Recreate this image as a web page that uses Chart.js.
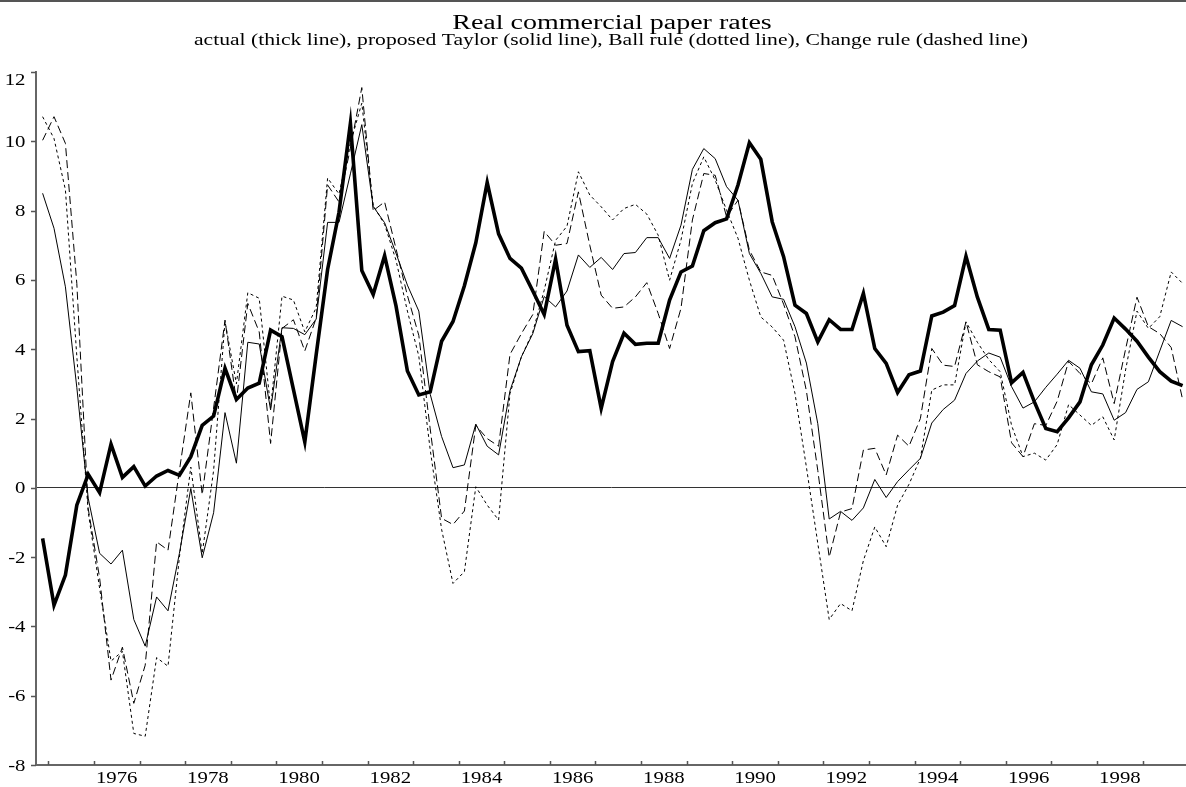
<!DOCTYPE html>
<html>
<head>
<meta charset="utf-8">
<script src="https://cdn.jsdelivr.net/npm/chart.js"></script>
<style>
  html, body { margin: 0; padding: 0; background: #fff; }
  canvas { display: block; }
</style>
</head>
<body>
<canvas id="c" width="1186" height="787"></canvas>
<script>
const chartTitle = "Real commercial paper rates";
const chartSubtitle = "actual (thick line), proposed Taylor (solid line), Ball rule (dotted line), Change rule (dashed line)";

const quarters = [
  "1974Q4",
  "1975Q1","1975Q2","1975Q3","1975Q4","1976Q1","1976Q2","1976Q3","1976Q4",
  "1977Q1","1977Q2","1977Q3","1977Q4","1978Q1","1978Q2","1978Q3","1978Q4",
  "1979Q1","1979Q2","1979Q3","1979Q4","1980Q1","1980Q2","1980Q3","1980Q4",
  "1981Q1","1981Q2","1981Q3","1981Q4","1982Q1","1982Q2","1982Q3","1982Q4",
  "1983Q1","1983Q2","1983Q3","1983Q4","1984Q1","1984Q2","1984Q3","1984Q4",
  "1985Q1","1985Q2","1985Q3","1985Q4","1986Q1","1986Q2","1986Q3","1986Q4",
  "1987Q1","1987Q2","1987Q3","1987Q4","1988Q1","1988Q2","1988Q3","1988Q4",
  "1989Q1","1989Q2","1989Q3","1989Q4","1990Q1","1990Q2","1990Q3","1990Q4",
  "1991Q1","1991Q2","1991Q3","1991Q4","1992Q1","1992Q2","1992Q3","1992Q4",
  "1993Q1","1993Q2","1993Q3","1993Q4","1994Q1","1994Q2","1994Q3","1994Q4",
  "1995Q1","1995Q2","1995Q3","1995Q4","1996Q1","1996Q2","1996Q3","1996Q4",
  "1997Q1","1997Q2","1997Q3","1997Q4","1998Q1","1998Q2","1998Q3","1998Q4",
  "1999Q1","1999Q2","1999Q3","1999Q4"
];

const actual = [
  -1.46,-3.39,-2.52,-0.50,0.39,-0.14,1.26,0.30,0.61,0.05,
  0.34,0.50,0.36,0.90,1.80,2.07,3.45,2.55,2.88,3.02,
  4.55,4.36,2.84,1.32,3.85,6.30,7.95,10.52,6.27,5.58,
  6.70,5.25,3.37,2.68,2.77,4.23,4.80,5.83,7.07,8.81,
  7.33,6.62,6.34,5.68,5.00,6.60,4.69,3.93,3.96,2.29,
  3.64,4.46,4.14,4.17,4.17,5.42,6.23,6.40,7.42,7.65,
  7.76,8.74,9.96,9.48,7.68,6.67,5.27,5.03,4.21,4.85,
  4.57,4.57,5.61,4.02,3.59,2.75,3.26,3.37,4.96,5.07,
  5.26,6.68,5.50,4.57,4.55,3.03,3.33,2.48,1.71,1.62,
  2.02,2.48,3.55,4.12,4.90,4.58,4.23,3.77,3.35,3.08,
  2.95
];

const taylor = [
  8.50,7.49,5.80,2.90,-0.30,-1.89,-2.20,-1.80,-3.80,-4.57,
  -3.15,-3.55,-1.89,-0.02,-2.02,-0.72,2.17,0.71,4.20,4.15,
  2.25,4.62,4.60,4.42,4.87,7.66,7.66,9.06,10.48,8.12,
  7.65,6.77,5.85,5.10,2.70,1.48,0.58,0.66,1.84,1.20,
  0.95,2.80,3.78,4.45,5.52,5.22,5.68,6.72,6.36,6.65,
  6.30,6.76,6.79,7.22,7.22,6.62,7.58,9.19,9.79,9.50,
  8.69,8.30,6.76,6.19,5.51,5.44,4.65,3.60,1.85,-0.90,
  -0.68,-0.94,-0.58,0.24,-0.28,0.18,0.52,0.85,1.87,2.26,
  2.53,3.30,3.66,3.89,3.77,2.92,2.30,2.48,2.90,3.28,
  3.68,3.45,2.77,2.71,1.95,2.17,2.84,3.06,3.95,4.83,
  4.65
];

const ball = [
  10.71,10.08,8.60,3.80,-0.70,-2.90,-5.00,-4.72,-7.09,-7.17,
  -4.90,-5.15,-2.00,0.60,-1.90,0.50,4.80,3.00,5.63,5.47,
  2.30,5.53,5.42,4.50,5.20,8.94,8.48,9.95,11.10,8.15,
  7.60,6.57,5.10,3.80,1.10,-1.20,-2.76,-2.42,0.03,-0.50,
  -0.93,2.72,3.78,4.50,5.70,7.14,7.55,9.12,8.45,8.11,
  7.73,8.06,8.18,7.90,7.29,5.99,7.15,8.78,9.55,8.88,
  8.01,7.20,5.99,4.93,4.64,4.26,2.72,0.60,-1.60,-3.80,
  -3.34,-3.55,-2.10,-1.13,-1.70,-0.50,0.10,0.85,2.82,2.97,
  2.97,4.79,4.20,3.70,3.35,1.80,0.90,1.00,0.80,1.25,
  2.40,2.10,1.80,2.05,1.38,3.40,5.10,4.60,4.94,6.23,
  5.90
];

const change = [
  10.03,10.71,9.94,5.90,-0.60,-2.60,-5.55,-4.60,-6.22,-5.12,
  -1.56,-1.80,0.50,2.74,-0.20,2.30,4.84,2.50,5.32,4.50,
  1.28,4.60,4.85,3.95,4.90,8.74,8.25,9.80,11.55,8.00,
  8.25,6.90,5.55,4.40,1.70,-0.88,-1.06,-0.67,1.80,1.42,
  1.20,3.85,4.45,5.00,7.40,7.00,7.05,8.54,7.00,5.56,
  5.18,5.22,5.51,5.92,5.03,4.02,5.18,7.73,9.07,9.02,
  7.82,8.30,6.86,6.23,6.13,5.30,4.36,2.80,0.50,-2.00,
  -0.70,-0.60,1.09,1.14,0.37,1.52,1.20,2.00,4.02,3.54,
  3.50,4.79,3.55,3.35,3.20,1.30,0.90,1.85,1.80,2.50,
  3.65,3.30,3.00,3.75,2.43,4.00,5.50,4.65,4.45,4.05,
  2.55
];

const xTickLabels = ["1976","1978","1980","1982","1984","1986","1988","1990","1992","1994","1996","1998"];
const yTickValues = [-8,-6,-4,-2,0,2,4,6,8,10,12];

// decimal date (mid-quarter) for each category label
function quarterToX(q) {
  const y = parseInt(q.slice(0, 4), 10);
  const n = parseInt(q.slice(5), 10);
  return y + (n - 1) / 4 + 0.125;
}
const xs = quarters.map(quarterToX);
const boundaryYears = quarters.filter(q => q.endsWith("Q1")).map(q => parseInt(q.slice(0, 4), 10));
const toPoints = arr => arr.map((v, i) => ({ x: xs[i], y: v }));

const FONT = '"Liberation Serif", "Times New Roman", "DejaVu Serif", serif';

function stretchedText(ctx, text, x, y, size, sx, align) {
  ctx.save();
  ctx.translate(x, y);
  ctx.scale(sx, 1);
  ctx.font = size + 'px ' + FONT;
  ctx.textAlign = align;
  ctx.textBaseline = 'alphabetic';
  ctx.fillStyle = '#000';
  ctx.fillText(text, 0, 0);
  ctx.restore();
}

const decor = {
  id: 'decor',
  afterDraw(chart) {
    const ctx = chart.ctx;
    const ca = chart.chartArea;
    const xsc = chart.scales.x;
    const ysc = chart.scales.y;
    ctx.save();
    // top rule
    ctx.fillStyle = '#555';
    ctx.fillRect(0, 0, chart.width, 2);
    // x tick marks at year boundaries (inward)
    ctx.strokeStyle = '#555';
    ctx.lineWidth = 1.5;
    ctx.beginPath();
    boundaryYears.forEach(yr => {
      const px = Math.round(xsc.getPixelForValue(yr)) + 0.5;
      ctx.moveTo(px, ca.bottom);
      ctx.lineTo(px, ca.bottom - 4);
    });
    // y tick marks (outward)
    ysc.ticks.forEach(t => {
      const py = Math.round(ysc.getPixelForValue(t.value)) + 0.5;
      ctx.moveTo(ca.left - 5, py);
      ctx.lineTo(ca.left, py);
    });
    ctx.stroke();
    // y labels
    ysc.ticks.forEach((t, i) => {
      const py = ysc.getPixelForValue(t.value);
      const base = (i === ysc.ticks.length - 1) ? py + 12.5 : py + 5.5;
      stretchedText(ctx, String(t.value), 25.5, base, 16, 1.3, 'right');
    });
    // x labels
    xsc.ticks.forEach((t, i) => {
      const px = xsc.getPixelForValue(t.value);
      stretchedText(ctx, xTickLabels[i], px, 783, 16, 1.3, 'center');
    });
    // titles
    const cx = (ca.left + ca.right) / 2 + 1;
    stretchedText(ctx, chartTitle, cx, 28.5, 20, 1.4, 'center');
    stretchedText(ctx, chartSubtitle, cx - 1, 45, 16, 1.35, 'center');
    ctx.restore();
  }
};

const chart = new Chart(document.getElementById('c'), {
  type: 'line',
  data: {
    datasets: [
      { label: 'actual', data: toPoints(actual), borderColor: '#000', borderWidth: 3.6, order: 0 },
      { label: 'proposed Taylor', data: toPoints(taylor), borderColor: '#000', borderWidth: 1, order: 1 },
      { label: 'Ball rule', data: toPoints(ball), borderColor: '#000', borderWidth: 1, borderDash: [3, 3], order: 2 },
      { label: 'Change rule', data: toPoints(change), borderColor: '#000', borderWidth: 1, borderDash: [8, 4], order: 3 }
    ]
  },
  options: {
    responsive: false,
    devicePixelRatio: 1,
    animation: false,
    events: [],
    layout: { padding: { top: 72, left: 0, right: 0, bottom: 0 } },
    elements: {
      point: { radius: 0, hoverRadius: 0 },
      line: { tension: 0, fill: false, borderJoinStyle: 'miter', borderCapStyle: 'butt' }
    },
    plugins: {
      legend: { display: false },
      tooltip: { enabled: false },
      title: { display: false }
    },
    scales: {
      x: {
        type: 'linear',
        min: 1974.73,
        max: 1999.95,
        afterBuildTicks: s => { s.ticks = xTickLabels.map(l => ({ value: Number(l) + 0.5 })); },
        afterFit: s => { s.height = 22; },
        ticks: { display: false, autoSkip: false },
        grid: { display: false },
        border: { display: true, color: '#666', width: 2 }
      },
      y: {
        type: 'linear',
        min: -8,
        max: 12,
        afterBuildTicks: s => { s.ticks = yTickValues.map(v => ({ value: v })); },
        afterFit: s => { s.width = 36; },
        ticks: { display: false },
        grid: {
          display: true,
          drawOnChartArea: true,
          drawTicks: false,
          lineWidth: 1,
          color: c => (c.tick && c.tick.value === 0) ? '#333' : 'rgba(0,0,0,0)'
        },
        border: { display: true, color: '#666', width: 2 }
      }
    }
  },
  plugins: [decor]
});
</script>
</body>
</html>
